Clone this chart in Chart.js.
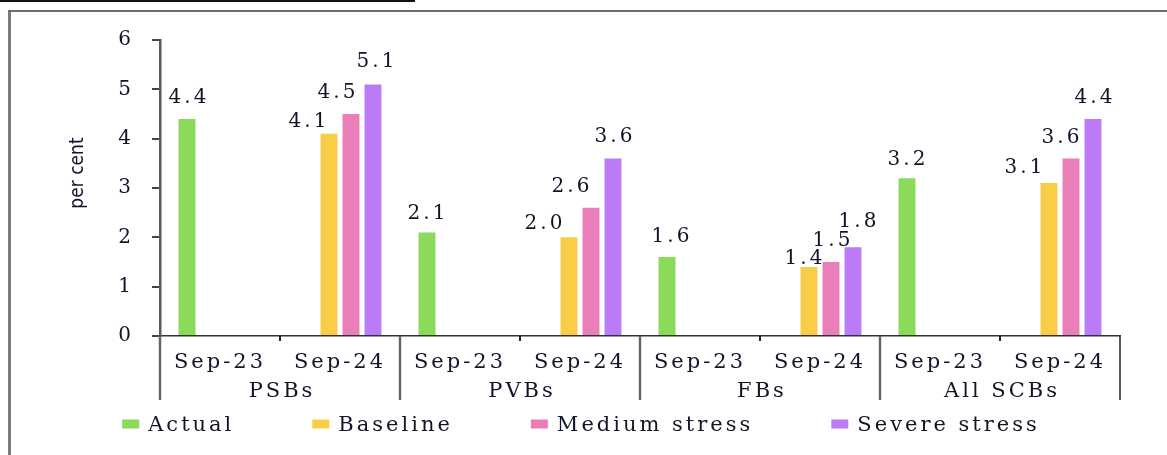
<!DOCTYPE html>
<html>
<head>
    <title>GNPA stress test</title>
    <meta charset="UTF-8">
    <script src="https://cdn.jsdelivr.net/npm/chart.js"></script>
    <style>
        body {
            margin: 0;
            background: #fff;
        }

        #wrap {
            position: relative;
            width: 1167px;
            height: 455px;
            overflow: hidden;
        }

        #wrap canvas {
            position: absolute;
            left: 0;
            top: 0;
        }

        .rule {
            position: absolute;
            left: 0;
            top: 0;
            width: 415px;
            border-top: 2px solid #111;
        }

        .frame {
            position: absolute;
            left: 8px;
            top: 10px;
            width: 1170px;
            height: 460px;
            border-left: 3px solid #7a7a7a;
            border-top: 2px solid #6e6e6e;
            pointer-events: none;
        }
    </style>
</head>
<body>
<div id="wrap">
    <canvas id="gnpaChart" width="1167" height="455"></canvas>
    <div class="rule"></div>
    <div class="frame"></div>
</div>

<script>
    // chart data
    const periods = ['Sep-23', 'Sep-24', 'Sep-23', 'Sep-24', 'Sep-23', 'Sep-24', 'Sep-23', 'Sep-24'];
    const groups = ['PSBs', 'PVBs', 'FBs', 'All SCBs'];
    const yTicks = [0, 1, 2, 3, 4, 5, 6];
    const seriesNames = ['Actual', 'Baseline', 'Medium stress', 'Severe stress'];
    const actual = [4.4, null, 2.1, null, 1.6, null, 3.2, null];
    const baseline = [null, 4.1, null, 2.0, null, 1.4, null, 3.1];
    const medium = [null, 4.5, null, 2.6, null, 1.5, null, 3.6];
    const severe = [null, 5.1, null, 3.6, null, 1.8, null, 4.4];

    const colours = ['#8bda59', '#f7ce46', '#e97eb8', '#bb7bf6'];
    const textColour = '#12142a';
    const serif = "'DejaVu Serif', 'Liberation Serif', serif";
    const spacing = '3px';

    // hand nudges of the value labels [dx, distance above bar top]
    const labelNudge = [
        [[0, 21], null, [-1, 19], null, [3, 20], null, [-1, 18], null],
        [null, [-22, 12], null, [-26, 14], null, [-6, 8], null, [-26, 15]],
        [null, [-15, 21], null, [-21, 21], null, [0, 21], null, [-11, 21]],
        [null, [2, 23], null, [0, 22], null, [4, 25], null, [0, 21]]
    ];

    const seriesValues = [actual, baseline, medium, severe];

    const decorations = {
        id: 'decorations',
        beforeLayout(chart) {
            chart.ctx.letterSpacing = spacing;
        },
        beforeDraw(chart) {
            chart.ctx.letterSpacing = spacing;
        },
        afterDatasetsDraw(chart) {
            const ctx = chart.ctx;
            ctx.save();
            ctx.letterSpacing = spacing;
            ctx.font = '20px ' + serif;
            ctx.fillStyle = textColour;
            ctx.textAlign = 'center';
            ctx.textBaseline = 'middle';
            seriesValues.forEach((values, s) => {
                const meta = chart.getDatasetMeta(s);
                values.forEach((v, i) => {
                    if (v === null) return;
                    const bar = meta.data[i];
                    const n = labelNudge[s][i] || [0, 20];
                    ctx.fillText(v.toFixed(1), bar.x + n[0] + 2, bar.y - n[1]);
                });
            });
            ctx.restore();
        },
        afterDraw(chart) {
            const ctx = chart.ctx;
            const xs = chart.scales.x;
            const half = (xs.getPixelForValue(1) - xs.getPixelForValue(0)) / 2;
            const axisY = xs.top;
            const edge = i => i < periods.length ? xs.getPixelForValue(i) - half : xs.getPixelForValue(i - 1) + half;

            ctx.save();
            ctx.letterSpacing = '0px';

            // small ticks between Sep-23 and Sep-24
            ctx.strokeStyle = '#222';
            ctx.lineWidth = 2;
            for (let i = 1; i < periods.length; i += 2) {
                ctx.beginPath();
                ctx.moveTo(edge(i), axisY);
                ctx.lineTo(edge(i), axisY + 5);
                ctx.stroke();
            }

            // group dividers
            for (let i = 0; i <= periods.length; i += 2) {
                const last = i === periods.length;
                ctx.strokeStyle = last ? '#222' : '#666';
                ctx.lineWidth = last ? 1.5 : 2.5;
                ctx.beginPath();
                ctx.moveTo(edge(i), axisY);
                ctx.lineTo(edge(i), axisY + 64);
                ctx.stroke();
            }

            // group labels
            ctx.letterSpacing = spacing;
            ctx.font = '21px ' + serif;
            ctx.fillStyle = textColour;
            ctx.textAlign = 'center';
            ctx.textBaseline = 'middle';
            groups.forEach((g, k) => {
                const cx = (xs.getPixelForValue(2 * k) + xs.getPixelForValue(2 * k + 1)) / 2;
                ctx.fillText(g, cx + 2, axisY + 56);
            });

            // legend
            const boxW = 17, boxH = 9, boxGap = 9, itemGap = 78;
            const widths = seriesNames.map(n => ctx.measureText(n).width);
            const total = widths.reduce((a, w) => a + boxW + boxGap + w, 0) + itemGap * (seriesNames.length - 1);
            let x = 581 - total / 2;
            const ly = 426;
            ctx.textAlign = 'left';
            seriesNames.forEach((n, k) => {
                ctx.fillStyle = colours[k];
                ctx.fillRect(x, ly - 2 - boxH / 2, boxW, boxH);
                ctx.fillStyle = textColour;
                ctx.fillText(n, x + boxW + boxGap, ly);
                x += boxW + boxGap + widths[k] + itemGap;
            });

            // y axis title
            ctx.letterSpacing = '0px';
            ctx.font = "19px 'Liberation Sans Narrow', 'DejaVu Sans Condensed', 'Liberation Sans', sans-serif";
            ctx.translate(78, 173);
            ctx.rotate(-Math.PI / 2);
            ctx.textAlign = 'center';
            ctx.fillText('per cent', 0, 0);
            ctx.restore();
        }
    };

    const ctx = document.getElementById('gnpaChart').getContext('2d');
    new Chart(ctx, {
        type: 'bar',
        data: {
            labels: periods,
            datasets: seriesNames.map((name, s) => ({
                label: name,
                data: seriesValues[s],
                backgroundColor: colours[s],
                borderWidth: 0,
                categoryPercentage: 0.733,
                barPercentage: 0.77
            }))
        },
        options: {
            responsive: false,
            animation: false,
            devicePixelRatio: 1,
            layout: {
                padding: {left: 0, right: 47, top: 40, bottom: 55}
            },
            plugins: {
                legend: {display: false},
                tooltip: {enabled: false}
            },
            scales: {
                x: {
                    offset: true,
                    grid: {display: false},
                    border: {display: true, color: '#333', width: 1.5},
                    ticks: {
                        color: textColour,
                        padding: 6,
                        maxRotation: 0,
                        autoSkip: false,
                        font: {family: serif, size: 21}
                    },
                    afterFit(scale) {
                        scale.height = 64;
                    }
                },
                y: {
                    min: 0,
                    max: 6,
                    afterBuildTicks(scale) {
                        scale.ticks = yTicks.map(v => ({value: v}));
                    },
                    grid: {
                        drawOnChartArea: false,
                        drawTicks: true,
                        tickLength: 8,
                        color: '#444',
                        lineWidth: 2
                    },
                    border: {display: true, color: '#5a5a5a', width: 2.5},
                    ticks: {
                        color: textColour,
                        padding: 18,
                        font: {family: serif, size: 20}
                    },
                    afterFit(scale) {
                        scale.width = 160;
                    }
                }
            }
        },
        plugins: [decorations]
    });
</script>
</body>
</html>
